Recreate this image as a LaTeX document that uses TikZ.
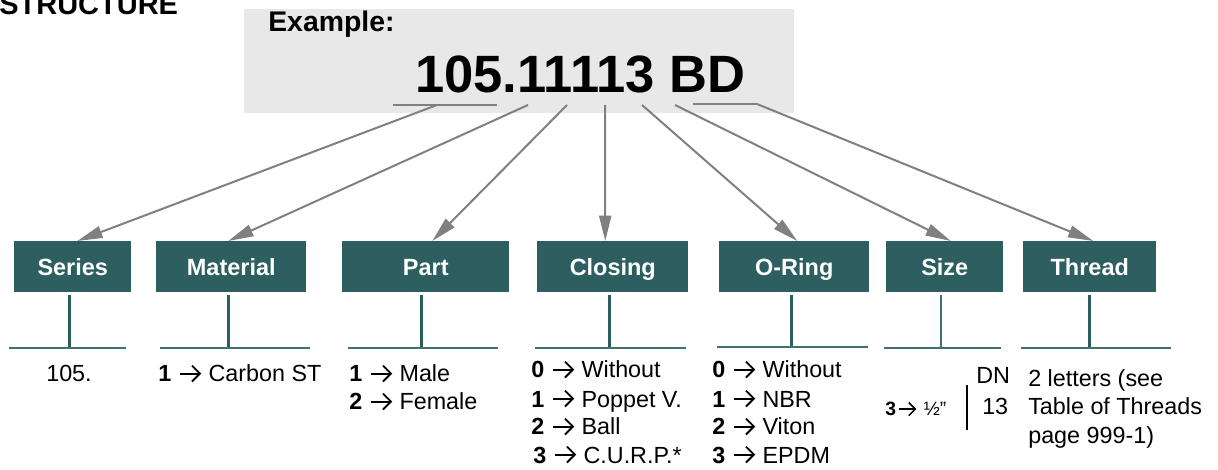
\documentclass[tikz,border=0pt]{standalone}
\usepackage{fontspec}
\setmainfont{Liberation Sans}
\usetikzlibrary{arrows.meta,calc}
\definecolor{tealbox}{RGB}{45,94,96}
\definecolor{tealline}{RGB}{64,112,114}
\definecolor{arrgray}{RGB}{128,128,128}
\definecolor{boxgray}{RGB}{232,232,232}
\newcommand\glypharrow{\tikz[baseline=0pt]{\draw[line width=0.08em, line cap=butt] (0em,0.36em) -- (0.84em,0.36em);
  \draw[line width=0.08em, line join=miter, line cap=butt] (0.52em,0.7em) -- (0.86em,0.36em) -- (0.52em,0.02em);}}
\newcommand\rarr{\hspace{0.33em}\glypharrow\hspace{0.33em}}
\begin{document}
\begin{tikzpicture}[x=0.75pt,y=-0.75pt,
  catbox/.style={fill=tealbox, text=white, font=\fontsize{17.6}{20}\selectfont\bfseries,
    inner sep=0pt, minimum height=38.25pt, text height=12.7pt, text depth=0pt, anchor=north west},
  body/.style={font=\fontsize{17.5}{21}\selectfont, inner sep=0pt, anchor=base west},
  arr/.style={draw=arrgray, line width=1.5pt, -{Triangle[length=19pt,width=9pt]}},
  uline/.style={draw=arrgray, line width=1.5pt},
  stem/.style={draw=tealbox, line width=2pt},
  hline/.style={draw=tealline, line width=1.5pt}]
\useasboundingbox (0,0) rectangle (1218,470);
\clip (0,0) rectangle (1218,470);

% title
\node[anchor=base west, inner sep=0pt, font=\fontsize{21.75}{24}\selectfont\bfseries] (structure) at (-1,15) {STRUCTURE};

% example box
\node[fill=boxgray, anchor=north west, inner sep=0pt, minimum width=412.5pt, minimum height=78pt] (exbox) at (244,9) {};
\node[anchor=base west, inner sep=0pt, font=\fontsize{21.3}{24}\selectfont\bfseries] (exlabel) at (268,32) {Example:};
\node[anchor=base west, inner sep=0pt, font=\fontsize{39.4}{42}\selectfont\bfseries] (code) at (415,93) {105.11113 BD};
\draw[uline] (393,105) -- (497,105);
\draw[uline] (693,104) -- (757,104);

% category boxes
\node[catbox, minimum width=87.75pt] (series) at (14,241) {Series};
\node[catbox, minimum width=112.5pt] (material) at (156,241) {Material};
\node[catbox, minimum width=125.25pt] (part) at (342,241) {Part};
\node[catbox, minimum width=113.25pt] (closing) at (537,241) {Closing};
\node[catbox, minimum width=112.5pt] (oring) at (719,241) {O-Ring};
\node[catbox, minimum width=87.75pt] (size) at (886,241) {Size};
\node[catbox, minimum width=99.75pt] (thread) at (1023,241) {Thread};

% arrow origins
\coordinate (o1) at (437,105);
\coordinate (o2) at (528,105);
\coordinate (o3) at (567,105);
\coordinate (o4) at (605,105);
\coordinate (o5) at (642,105);
\coordinate (o6) at (675,105);
\coordinate (o7) at (757,104);

\draw[arr] (o1) -- ($(series.north)+(4.5,0)$);
\draw[arr] (o2) -- ($(material.north)+(-3,0)$);
\draw[arr] (o3) -- ($(part.north)+(6.5,0)$);
\draw[arr] (o4) -- ($(closing.north)+(-7.5,0)$);
\draw[arr] (o5) -- ($(oring.north)+(3,0)$);
\draw[arr] (o6) -- ($(size.north)+(6,0)$);
\draw[arr] (o7) -- ($(thread.north)+(3.5,0)$);

% stems and lines
\draw[stem] ($(series.south)+(-3.5,2)$) -- ++(0,54);
\draw[stem] ($(material.south)+(-3,2)$) -- ++(0,54);
\draw[stem] ($(part.south)+(-4.5,2)$) -- ++(0,54);
\draw[stem] ($(closing.south)+(-3.5,2)$) -- ++(0,54);
\draw[stem] ($(oring.south)+(-3,2)$) -- ++(0,53);
\draw[stem, draw=tealline, line width=1.3pt] ($(size.south)+(-3.5,2)$) -- ++(0,54);
\draw[stem] ($(thread.south)+(0,2)$) -- ++(0,54);

\draw[hline] (9,348) -- (126,348);
\draw[hline] (160,348) -- (310,348);
\draw[hline] (348,348) -- (498,348);
\draw[hline] (535,348) -- (686,348);
\draw[hline] (717,347) -- (868,347);
\draw[hline] (884,348) -- (1001,348);
\draw[hline] (1021,348) -- (1171,348);

% texts
\node[body, anchor=base] (t-series) at (69,382) {105.};
\node[body] (t-mat) at (158,382) {\textbf{1}\rarr Carbon ST};
\node[body] (t-part1) at (349,382) {\textbf{1}\rarr Male};
\node[body] (t-part2) at (349,410) {\textbf{2}\rarr Female};
\node[body] (t-cl0) at (531,378) {\textbf{0}\rarr Without};
\node[body] (t-cl1) at (531,407) {\textbf{1}\rarr Poppet V.};
\node[body] (t-cl2) at (531,435) {\textbf{2}\rarr Ball};
\node[body] (t-cl3) at (533,463) {\textbf{3}\rarr C.U.R.P.*};
\node[body] (t-or0) at (712,378) {\textbf{0}\rarr Without};
\node[body] (t-or1) at (712,407) {\textbf{1}\rarr NBR};
\node[body] (t-or2) at (712,435) {\textbf{2}\rarr Viton};
\node[body] (t-or3) at (712,463) {\textbf{3}\rarr EPDM};
\node[body, font=\fontsize{14.5}{16}\selectfont] (t-size) at (885,416) {\textbf{3}\hspace{0.1em}\glypharrow\hspace{0.4em}½”};
\node[body] (t-dn) at (976,383) {DN};
\node[body] (t-13) at (982,415) {13};
\draw[line width=1.9pt] (967,385) -- (967,430);
\node[body] (t-th1) at (1028,387) {2 letters (see};
\node[body] (t-th2) at (1028,415) {Table of Threads};
\node[body] (t-th3) at (1028,443) {page 999-1)};
\end{tikzpicture}
\end{document}
